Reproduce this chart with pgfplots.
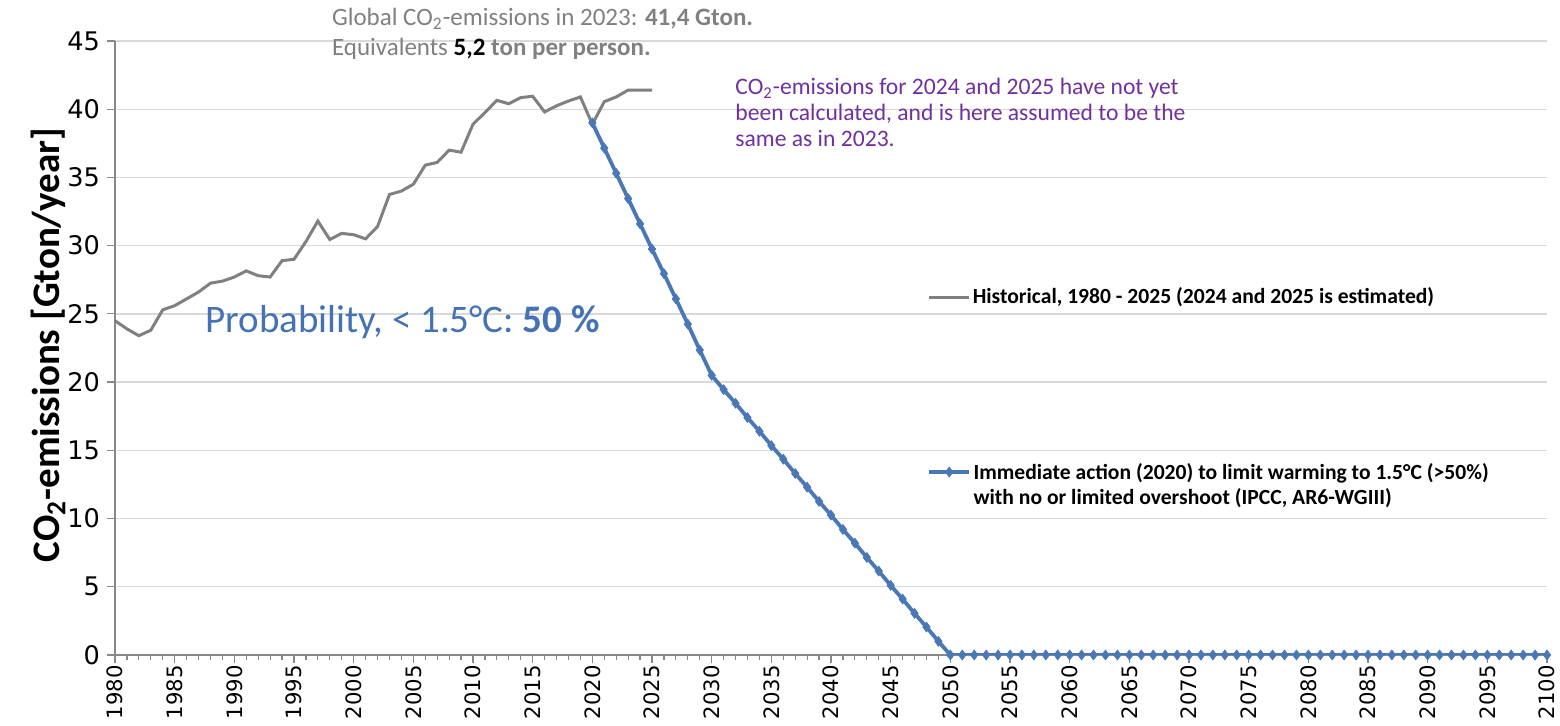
\documentclass[border=0pt]{standalone}
\usepackage{pgfplots}
\usepackage{pgfplotstable}
\pgfplotsset{compat=1.18}
\usepackage{fontspec}
\setmainfont{Carlito}
\newfontfamily\dejavu{DejaVu Sans}
\definecolor{histgray}{HTML}{808080}
\definecolor{blueline}{HTML}{4A78B6}
\definecolor{bluetext}{HTML}{4472B4}
\definecolor{purp}{HTML}{7030A0}
\definecolor{gridc}{HTML}{D9D9D9}
\definecolor{axisc}{HTML}{888888}

\pgfplotstableread{
year value
1980 24.5
1981 23.9
1982 23.4
1983 23.8
1984 25.3
1985 25.6
1986 26.1
1987 26.6
1988 27.25
1989 27.4
1990 27.7
1991 28.15
1992 27.8
1993 27.7
1994 28.9
1995 29.0
1996 30.3
1997 31.8
1998 30.45
1999 30.9
2000 30.8
2001 30.5
2002 31.4
2003 33.75
2004 34.0
2005 34.5
2006 35.9
2007 36.1
2008 37.0
2009 36.85
2010 38.9
2011 39.75
2012 40.65
2013 40.4
2014 40.85
2015 40.95
2016 39.8
2017 40.25
2018 40.6
2019 40.9
2020 38.9
2021 40.55
2022 40.9
2023 41.4
2024 41.4
2025 41.4
}\histdata

\pgfplotstableread{
year value
2020 39.0
2021 37.15
2022 35.3
2023 33.45
2024 31.6
2025 29.75
2026 27.95
2027 26.1
2028 24.25
2029 22.35
2030 20.5
2031 19.45
2032 18.45
2033 17.4
2034 16.4
2035 15.35
2036 14.35
2037 13.3
2038 12.3
2039 11.25
2040 10.25
2041 9.2
2042 8.2
2043 7.15
2044 6.15
2045 5.1
2046 4.1
2047 3.05
2048 2.05
2049 1.0
2050 0
2051 0
2052 0
2053 0
2054 0
2055 0
2056 0
2057 0
2058 0
2059 0
2060 0
2061 0
2062 0
2063 0
2064 0
2065 0
2066 0
2067 0
2068 0
2069 0
2070 0
2071 0
2072 0
2073 0
2074 0
2075 0
2076 0
2077 0
2078 0
2079 0
2080 0
2081 0
2082 0
2083 0
2084 0
2085 0
2086 0
2087 0
2088 0
2089 0
2090 0
2091 0
2092 0
2093 0
2094 0
2095 0
2096 0
2097 0
2098 0
2099 0
2100 0
}\pathdata

\pgfplotsset{
  base/.style={scale only axis, width=716pt, height=307pt,
    at={(57.5pt,35.5pt)}, anchor=south west,
    xmin=1980, xmax=2100, ymin=0, ymax=45,
    legend image code/.code={\draw[mark repeat=2,mark phase=2,##1] plot coordinates {(0pt,0pt) (10pt,0pt) (20pt,0pt)};},
    legend style={draw=none, fill=none, inner sep=0pt,
      font=\bfseries\fontsize{10.8}{12.5}\selectfont,
      nodes={inner sep=1.2pt}},
    legend cell align=left},
}

\begin{document}
\begin{tikzpicture}
\begin{axis}[base,
  axis x line*=bottom, axis y line*=left,
  axis line style={axisc, line width=0.8pt},
  xtick={1980,1985,...,2100}, minor x tick num=4,
  ytick={0,5,...,45},
  tick align=outside,
  tick style={axisc, line width=0.6pt},
  major tick length=4pt, minor tick length=2.5pt,
  ymajorgrids, grid style={gridc, line width=0.7pt},
  /pgf/number format/assume math mode=true,
  /pgf/number format/1000 sep={},
  xticklabel style={rotate=90, anchor=east, inner sep=1pt, font=\dejavu\fontsize{10.6}{12}\selectfont},
  yticklabel style={font=\dejavu\fontsize{12.8}{13}\selectfont},
  legend style={at={(0.567,0.583)}, anchor=west},
]
\addplot[histgray, line width=1.5pt, no marks] table {\histdata};
\addlegendentry{Historical, 1980 - 2025 (2024 and 2025 is estimated)}
\end{axis}
\begin{axis}[base, hide axis,
  legend style={at={(0.567,0.298)}, anchor=west},
]
\addplot[blueline, line width=1.9pt, mark=diamond*, mark size=2.5pt,
  mark options={fill=blueline, draw=blueline, line width=0.3pt}] table {\pathdata};
\addlegendentry{\begin{tabular}[t]{@{}l@{}}Immediate action (2020) to limit warming to 1.5°C (>50\%)\\with no or limited overshoot (IPCC, AR6-WGIII)\end{tabular}}
\end{axis}

\node[anchor=base west, text=histgray, font=\fontsize{12.5}{14}\selectfont] at (162.5pt,350pt) {Global CO\textsubscript{2}-emissions in 2023: \textbf{41,4 Gton.}};
\node[anchor=base west, text=histgray, font=\fontsize{12.5}{14}\selectfont] at (162.5pt,335pt) {Equivalents \textbf{\textcolor{black}{5,2}} \textbf{ton per person.}};
\node[anchor=north west, align=left, text=purp, font=\fontsize{11.8}{13}\selectfont, inner sep=0pt] at (367.5pt,324pt) {CO\textsubscript{2}-emissions for 2024 and 2025 have not yet\\been calculated, and is here assumed to be the\\same as in 2023.};
\node[anchor=west, text=bluetext, font=\fontsize{19.5}{22}\selectfont, inner sep=0pt] at (102.5pt,202pt) {Probability, < 1.5°C: \textbf{50 \%}};
\node[rotate=90, font=\bfseries\fontsize{19.5}{22}\selectfont, inner sep=0pt] at (24pt,190.5pt) {CO\textsubscript{2}-emissions [Gton/year]};

\pgfresetboundingbox
\path[use as bounding box] (0pt,0pt) rectangle (780pt,363pt);
\end{tikzpicture}
\end{document}
